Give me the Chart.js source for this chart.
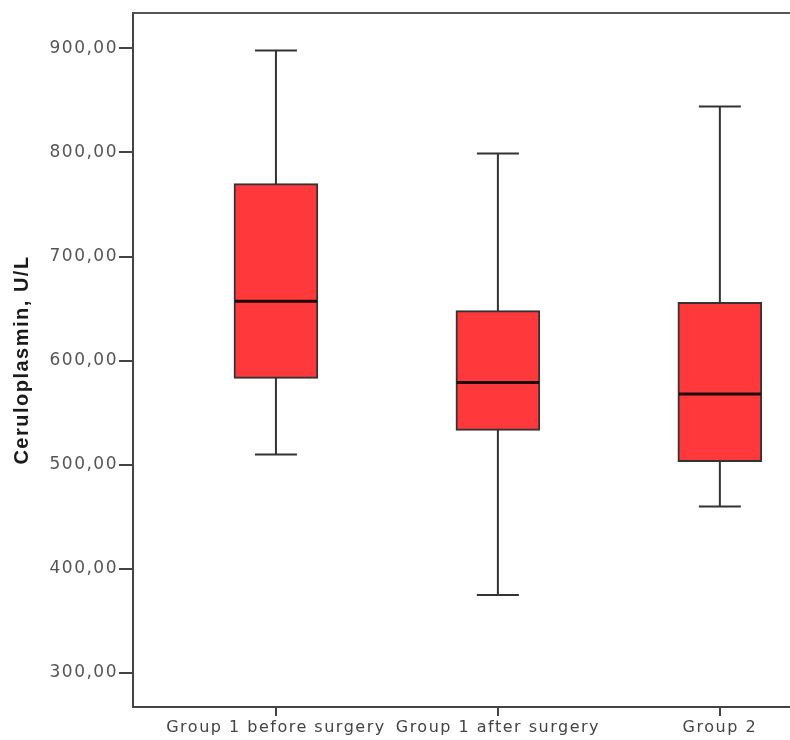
<!DOCTYPE html>
<html>
<head>
<meta charset="utf-8">
<script src="https://cdn.jsdelivr.net/npm/chart.js@4.4.1/dist/chart.umd.min.js"></script>
<style>
  html, body { margin: 0; padding: 0; background: #fff; overflow: hidden; }
  #wrap { width: 790px; height: 740px; position: relative; }
</style>
</head>
<body>
<div id="wrap"><canvas id="boxChart"></canvas></div>
<script>
// groups on the x axis
const categories = ['Group 1 before surgery', 'Group 1 after surgery', 'Group 2'];
// box plot stats (U/L)
const whiskerLow  = [510, 375, 460];
const quartile1   = [583, 533, 503];
const medians     = [657, 579, 568];
const quartile3   = [770, 648, 656];
const whiskerHigh = [898, 799, 844];
const yTicks = [300, 400, 500, 600, 700, 800, 900];

const boxFill = '#ff383c';
const lineCol = '#333';

// the reference text is set quite wide, so spread the letters a bit
const wideText = {
    id: 'wideText',
    beforeUpdate(chart) { chart.ctx.letterSpacing = '1.5px'; },
    beforeDraw(chart) { chart.ctx.letterSpacing = '1.5px'; }
};

// whiskers, caps and median lines drawn through the chart's scales
const boxExtras = {
    id: 'boxExtras',
    beforeDatasetsDraw(chart) {
        const { ctx, scales: { x, y } } = chart;
        ctx.save();
        ctx.strokeStyle = lineCol;
        ctx.lineWidth = 2;
        categories.forEach((c, i) => {
            const cx = x.getPixelForValue(i);
            const capHalf = 21;
            const lo = y.getPixelForValue(whiskerLow[i]);
            const hi = y.getPixelForValue(whiskerHigh[i]);
            ctx.beginPath();
            ctx.moveTo(cx, lo); ctx.lineTo(cx, hi);
            ctx.moveTo(cx - capHalf, lo); ctx.lineTo(cx + capHalf, lo);
            ctx.moveTo(cx - capHalf, hi); ctx.lineTo(cx + capHalf, hi);
            ctx.stroke();
        });
        ctx.restore();
    },
    afterDatasetsDraw(chart) {
        const { ctx, scales: { y } } = chart;
        const meta = chart.getDatasetMeta(0);
        ctx.save();
        ctx.strokeStyle = '#1e0808';
        ctx.lineWidth = 3;
        meta.data.forEach((bar, i) => {
            const half = bar.width / 2 - 1;
            const my = y.getPixelForValue(medians[i]);
            ctx.beginPath();
            ctx.moveTo(bar.x - half, my);
            ctx.lineTo(bar.x + half, my);
            ctx.stroke();
        });
        // top frame line
        const area = chart.chartArea;
        ctx.strokeStyle = '#555';
        ctx.lineWidth = 2;
        ctx.beginPath();
        ctx.moveTo(area.left, area.top);
        ctx.lineTo(area.right, area.top);
        ctx.stroke();
        ctx.restore();
    }
};

new Chart(document.getElementById('boxChart'), {
    type: 'bar',
    data: {
        datasets: [{
            data: categories.map((c, i) => ({ x: i, y: [quartile1[i], quartile3[i]] })),
            backgroundColor: boxFill,
            borderColor: lineCol,
            borderWidth: 2,
            borderSkipped: false,
            barThickness: 84
        }]
    },
    options: {
        responsive: true,
        maintainAspectRatio: false,
        animation: false,
        layout: { padding: { top: 13, right: 0, left: 0, bottom: 0 } },
        plugins: { legend: { display: false }, tooltip: { enabled: false } },
        scales: {
            x: {
                type: 'linear',
                offset: false,
                min: -0.644,
                max: 2.316,
                afterBuildTicks: (scale) => { scale.ticks = categories.map((c, i) => ({ value: i })); },
                afterFit: (scale) => { scale.height = 33; },
                border: { display: true, color: '#444', width: 2 },
                grid: { offset: false, drawOnChartArea: false, drawTicks: true, tickLength: 9, color: '#444', lineWidth: 2 },
                ticks: {
                    autoSkip: false,
                    maxRotation: 0,
                    padding: 2,
                    color: '#444',
                    font: { family: 'DejaVu Sans', size: 16 },
                    callback: (v) => categories[v]
                }
            },
            y: {
                min: 267.4,
                max: 933.9,
                afterBuildTicks: (scale) => { scale.ticks = yTicks.map(v => ({ value: v })); },
                afterFit: (scale) => { scale.width = 133; },
                border: { display: true, color: '#444', width: 2 },
                grid: { drawOnChartArea: false, drawTicks: true, tickLength: 14, color: '#444', lineWidth: 2 },
                ticks: {
                    padding: 1,
                    color: '#555',
                    font: { family: 'DejaVu Sans', size: 17 },
                    callback: (v) => v.toFixed(2).replace('.', ',')
                },
                title: {
                    display: true,
                    text: 'Ceruloplasmin, U/L',
                    color: '#1a1a1a',
                    padding: { top: 10, bottom: 0 },
                    font: { family: 'Liberation Sans', size: 20, weight: 'bold' }
                }
            }
        }
    },
    plugins: [wideText, boxExtras]
});
</script>
</body>
</html>
